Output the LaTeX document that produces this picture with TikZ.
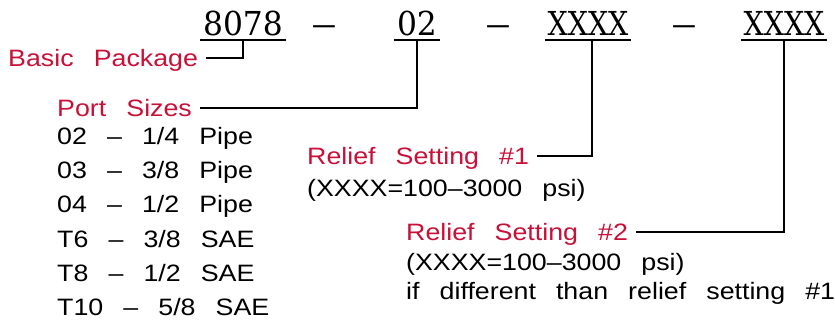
\documentclass[tikz,border=0pt]{standalone}
\usepackage{fontspec}
\newfontfamily\cadfont{Liberation Sans}[FakeStretch=1.13, WordSpace=2.7, Ligatures=TeX]
\newfontfamily\codefont{DejaVu Serif}[Ligatures=TeX]
\definecolor{labelred}{RGB}{200,16,56}
\tikzset{
  code/.style={font=\fontsize{33}{36}\codefont, inner xsep=3pt, inner ysep=0pt, anchor=base},
  txt/.style={font=\fontsize{23.7}{28}\cadfont, inner xsep=8pt, inner ysep=0pt, text height=17pt, text depth=0pt, anchor=west},
  lbl/.style={txt, text=labelred},
  lead/.style={line width=1.2pt},
}
\begin{document}
\begin{tikzpicture}[x = 1pt, y = -1pt]
	\useasboundingbox (0,0) rectangle (835,321);
	% part number
	\node[code, xscale=.95] (n8078) at (243,36) {8078};
	\node[code, xscale=1.6] (dash1) at (324,36) {--};
	\node[code, xscale=.95] (n02) at (417,36) {02};
	\node[code, xscale=1.6] (dash2) at (498,36) {--};
	\node[code, xscale=.86] (rs1code) at (588,36) {XXXX};
	\node[code, xscale=1.6] (dash3) at (684,36) {--};
	\node[code, xscale=.86] (rs2code) at (784,36) {XXXX};
	\foreach \n in {n8078, n02, rs1code, rs2code}
		\draw[lead] ([yshift=-4pt]\n.base west) -- ([yshift=-4pt]\n.base east); %underline
	% labels
	\node[lbl] (pkg) at (0,58) {Basic Package};
	\node[lbl] (ports) at (49,108) {Port Sizes};
	\foreach \s [count=\i] in {02 -- 1/4 Pipe, 03 -- 3/8 Pipe, 04 -- 1/2 Pipe, T6 -- 3/8 SAE, T8 -- 1/2 SAE, T10 -- 5/8 SAE}
		\node[txt] (size\i) at (49, {136+34.2*(\i-1)}) {\s};
	\node[lbl] (rs1) at (299,156) {Relief Setting \#1};
	\node[txt] (rs1val) at (299,188) {(XXXX=100--3000 psi)};
	\node[lbl] (rs2) at (398,232) {Relief Setting \#2};
	\node[txt] (rs2val) at (398,262) {(XXXX=100--3000 psi)};
	\node[txt] (rs2note) at (398,291) {if different than relief setting \#1};
	% leaders
	\draw[lead] (pkg.east) -| ([yshift=-4pt]n8078.base);
	\draw[lead] (ports.east) -| ([yshift=-4pt]n02.base);
	\draw[lead] (rs1.east) -| ([xshift=4pt, yshift=-4pt]rs1code.base);
	\draw[lead] (rs2.east) -| ([yshift=-4pt]rs2code.base);
\end{tikzpicture}
\end{document}
